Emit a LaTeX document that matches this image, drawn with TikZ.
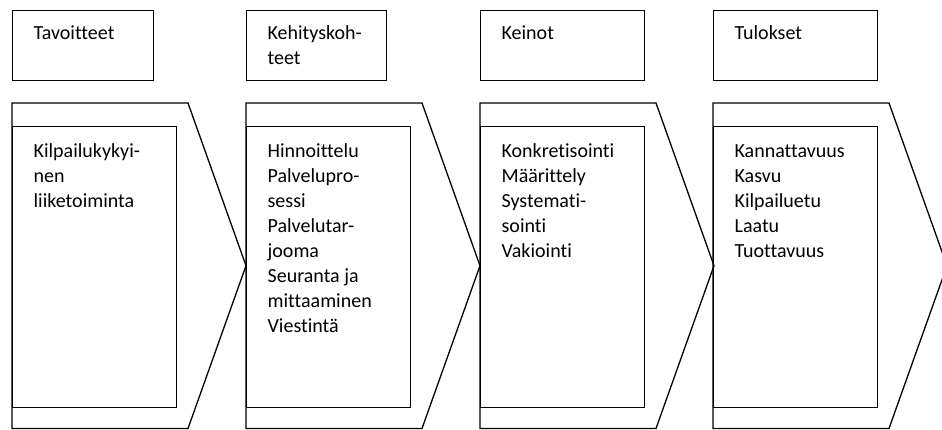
\documentclass[tikz,border=0pt]{standalone}
\usepackage{fontspec}
\setmainfont{Carlito}[Ligatures=NoCommon]
\usetikzlibrary{calc}

\begin{document}
\begin{tikzpicture}[x=1pt, y=-1pt, line width=1.3pt,
    chevron/.style={draw, line width=1.3pt, line join=miter},
    headbox/.style={draw, rectangle, anchor=north west, inner sep=0pt, minimum height=70pt},
    innerbox/.style={draw, rectangle, anchor=north west, inner sep=0pt, minimum width=164pt, minimum height=281pt},
    boxtext/.style={anchor=north west, align=left, inner sep=0pt, font=\fontsize{20pt}{25pt}\selectfont}]
    \useasboundingbox (0,0) rectangle (942,430);
        % chevrons
        \coordinate (c1) at (12,103);
        \coordinate (c2) at (246,103);
        \coordinate (c3) at (480,103);
        \coordinate (c4) at (713,103);
        \draw[chevron] (c1) -- ++(176,0) -- ++(58,162.75) -- ++(-58,162.75) -- ++(-176,0) -- cycle;
        \draw[chevron] (c2) -- ++(176,0) -- ++(58,162.75) -- ++(-58,162.75) -- ++(-176,0) -- cycle;
        \draw[chevron] (c3) -- ++(176,0) -- ++(58,162.75) -- ++(-58,162.75) -- ++(-176,0) -- cycle;
        \draw[chevron] (c4) -- ++(176,0) -- ++(58,162.75) -- ++(-58,162.75) -- ++(-176,0) -- cycle;
        % headings
        \node[headbox, minimum width=141pt] (h1) at (12,10) {};
        \node[headbox, minimum width=140pt] (h2) at (246,10) {};
        \node[headbox, minimum width=164pt] (h3) at (480,10) {};
        \node[headbox, minimum width=164pt] (h4) at (713,10) {};
        \node[boxtext] (th1) at ($(h1.north west)+(21,14)$) {\rule{0pt}{15pt}Tavoitteet};
        \node[boxtext] (th2) at ($(h2.north west)+(21,14)$) {\rule{0pt}{15pt}Kehityskoh-\\teet};
        \node[boxtext] (th3) at ($(h3.north west)+(21,14)$) {\rule{0pt}{15pt}Keinot};
        \node[boxtext] (th4) at ($(h4.north west)+(21,14)$) {\rule{0pt}{15pt}Tulokset};
        % inner boxes
        \node[innerbox] (b1) at (12,126) {};
        \node[innerbox] (b2) at (246,126) {};
        \node[innerbox] (b3) at (480,126) {};
        \node[innerbox] (b4) at (713,126) {};
        \node[boxtext] (tb1) at ($(b1.north west)+(21,16)$) {\rule{0pt}{15pt}Kilpailukykyi-\\nen\\liiketoiminta};
        \node[boxtext] (tb2) at ($(b2.north west)+(21,16)$) {\rule{0pt}{15pt}Hinnoittelu\\Palvelupro-\\sessi\\Palvelutar-\\jooma\\Seuranta ja\\mittaaminen\\Viestintä};
        \node[boxtext] (tb3) at ($(b3.north west)+(21,16)$) {\rule{0pt}{15pt}Konkretisointi\\Määrittely\\Systemati-\\sointi\\Vakiointi};
        \node[boxtext] (tb4) at ($(b4.north west)+(21,16)$) {\rule{0pt}{15pt}Kannattavuus\\Kasvu\\Kilpailuetu\\Laatu\\Tuottavuus};
\end{tikzpicture}
\end{document}
